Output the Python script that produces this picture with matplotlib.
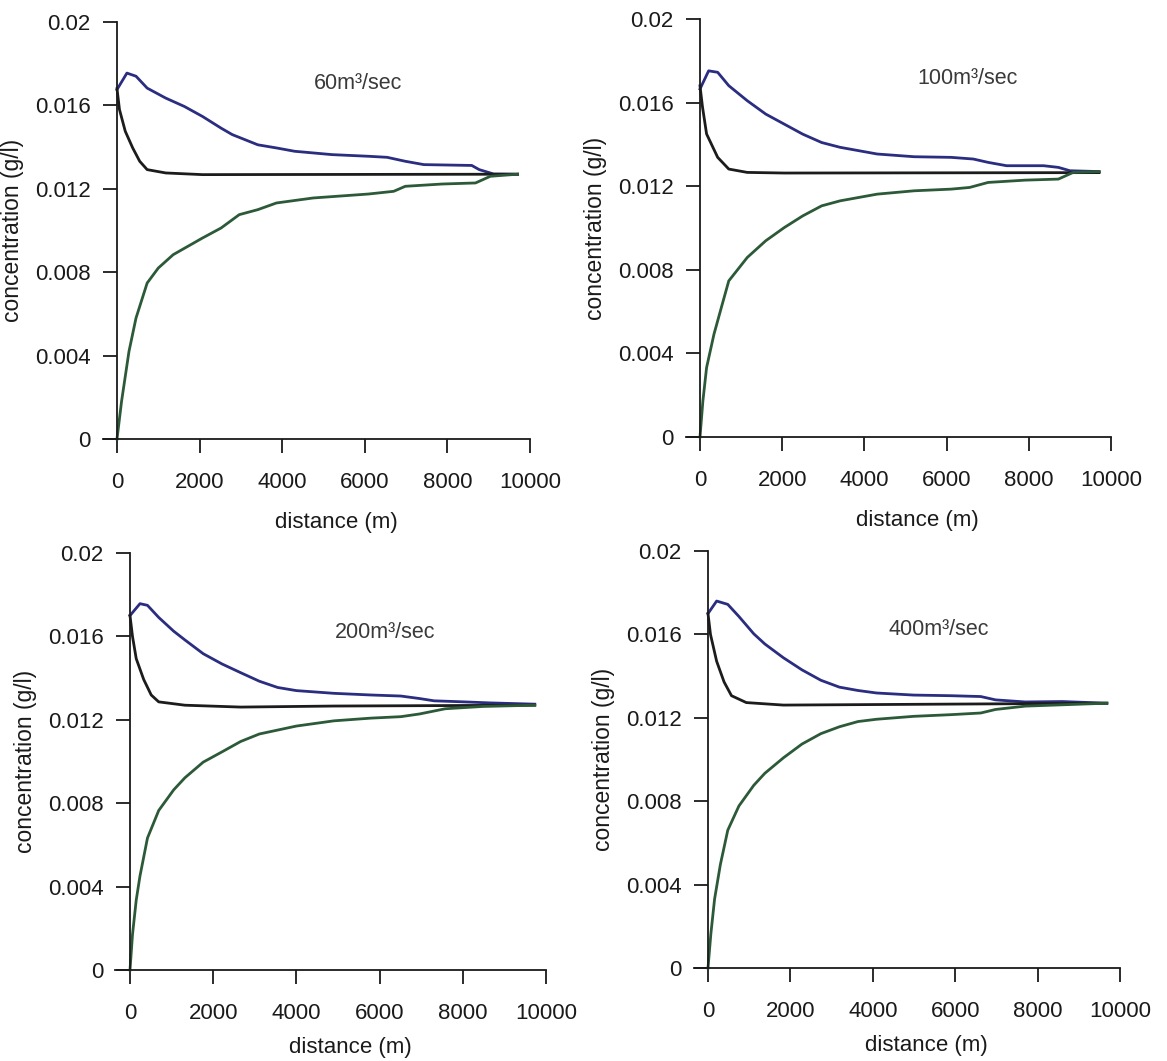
import matplotlib
matplotlib.use("Agg")
import matplotlib.pyplot as plt

plt.rcParams['font.family'] = ['Liberation Sans', 'DejaVu Sans']

# discharge cases
flows = ["60", "100", "200", "400"]

# 60 m3/sec
x_blue_60 = [0, 240, 460, 730, 1180, 1630, 2070, 2520, 2790, 3410, 3860, 4300, 5200, 6090, 6540, 6980, 7430, 8590, 8770, 9120, 9700]
c_blue_60 = [0.01676, 0.01755, 0.0174, 0.01683, 0.01635, 0.01595, 0.01547, 0.01491, 0.0146, 0.01411, 0.01396, 0.0138, 0.01364, 0.01356, 0.01351, 0.01332, 0.01316, 0.01312, 0.01292, 0.01271, 0.0127]
x_black_60 = [0, 60, 200, 380, 550, 730, 1180, 2070, 9700]
c_black_60 = [0.0168, 0.0158, 0.01476, 0.01396, 0.01332, 0.01292, 0.01276, 0.01268, 0.0127]
x_green_60 = [0, 110, 290, 460, 730, 1000, 1360, 2070, 2520, 2960, 3410, 3860, 4750, 6090, 6700, 6980, 7880, 8680, 9040, 9700]
c_green_60 = [0, 0.0018, 0.0042, 0.0058, 0.00748, 0.0082, 0.00884, 0.00964, 0.01012, 0.01076, 0.011, 0.01132, 0.01156, 0.01175, 0.01188, 0.01212, 0.01223, 0.01228, 0.0126, 0.0127]

# 100 m3/sec
x_blue_100 = [0, 210, 430, 700, 1150, 1600, 2050, 2500, 2960, 3410, 4310, 5210, 6110, 6650, 7010, 7460, 8360, 8720, 9000, 9710]
c_blue_100 = [0.01665, 0.01752, 0.01745, 0.01681, 0.01609, 0.01545, 0.01497, 0.01449, 0.01409, 0.01386, 0.01354, 0.01341, 0.01338, 0.0133, 0.01314, 0.01298, 0.01298, 0.0129, 0.01274, 0.0127]
x_black_100 = [0, 60, 160, 430, 700, 1150, 2050, 9710]
c_black_100 = [0.0168, 0.0158, 0.0145, 0.01338, 0.01282, 0.01266, 0.01263, 0.01265]
x_green_100 = [0, 70, 160, 340, 520, 700, 1150, 1600, 2050, 2500, 2960, 3410, 4310, 5210, 6110, 6560, 7010, 7910, 8720, 9080, 9710]
c_green_100 = [0, 0.00172, 0.00332, 0.00492, 0.0062, 0.00747, 0.00859, 0.00939, 0.01002, 0.01058, 0.01106, 0.0113, 0.01162, 0.01178, 0.01186, 0.01194, 0.01218, 0.01229, 0.01234, 0.01266, 0.0127]

# 200 m3/sec
x_blue_200 = [0, 240, 420, 690, 1050, 1320, 1760, 2210, 2660, 3110, 3550, 4000, 4900, 5790, 6510, 6960, 7310, 8030, 8660, 9730]
c_blue_200 = [0.0170, 0.01757, 0.01749, 0.01691, 0.01625, 0.01583, 0.01517, 0.01468, 0.01426, 0.01385, 0.01355, 0.0134, 0.01327, 0.01319, 0.01314, 0.01302, 0.01291, 0.01286, 0.01281, 0.01275]
x_black_200 = [0, 60, 150, 330, 510, 690, 1320, 2660, 4900, 9730]
c_black_200 = [0.0170, 0.0160, 0.01493, 0.01393, 0.01319, 0.01286, 0.0127, 0.01261, 0.01266, 0.0127]
x_green_200 = [0, 60, 150, 240, 420, 690, 1050, 1320, 1760, 2210, 2660, 3110, 4000, 4900, 5790, 6510, 6960, 7580, 8480, 9730]
c_green_200 = [0, 0.0017, 0.00336, 0.00451, 0.00633, 0.00765, 0.00864, 0.00922, 0.00997, 0.01046, 0.01096, 0.01132, 0.0117, 0.01195, 0.01208, 0.01215, 0.01228, 0.01253, 0.01264, 0.0127]

# 400 m3/sec
x_blue_400 = [0, 210, 480, 750, 1110, 1380, 1830, 2280, 2740, 3190, 3640, 4090, 4990, 5890, 6620, 6980, 7700, 8600, 9680]
c_blue_400 = [0.0170, 0.0176, 0.01744, 0.01686, 0.01603, 0.01554, 0.01488, 0.0143, 0.0138, 0.01347, 0.01331, 0.01319, 0.01309, 0.01306, 0.01302, 0.01286, 0.01276, 0.01278, 0.0127]
x_black_400 = [0, 60, 210, 390, 570, 930, 1830, 9680]
c_black_400 = [0.0170, 0.0160, 0.01471, 0.01372, 0.01306, 0.01273, 0.01261, 0.0127]
x_green_400 = [0, 70, 160, 300, 480, 750, 1110, 1380, 1830, 2280, 2740, 3190, 3640, 4090, 4990, 5890, 6620, 6980, 7700, 9680]
c_green_400 = [0, 0.00165, 0.00331, 0.00496, 0.00661, 0.00777, 0.00876, 0.00934, 0.01008, 0.01074, 0.01124, 0.01157, 0.01182, 0.01193, 0.01207, 0.01215, 0.01223, 0.0124, 0.01256, 0.0127]

y_ticks = [0, 0.004, 0.008, 0.012, 0.016, 0.02]
y_ticklabels = ["0", "0.004", "0.008", "0.012", "0.016", "0.02"]
x_ticks = [0, 2000, 4000, 6000, 8000, 10000]

series = {
    "60": [(x_blue_60, c_blue_60), (x_black_60, c_black_60), (x_green_60, c_green_60)],
    "100": [(x_blue_100, c_blue_100), (x_black_100, c_black_100), (x_green_100, c_green_100)],
    "200": [(x_blue_200, c_blue_200), (x_black_200, c_black_200), (x_green_200, c_green_200)],
    "400": [(x_blue_400, c_blue_400), (x_black_400, c_black_400), (x_green_400, c_green_400)],
}
colors = ["#2a2d80", "#1c1c1c", "#2c5a38"]

W, H = 1167, 1061
XMIN = -350
# pixel positions: y-axis (x=0), x=10000, y=0.02, y=0
boxes = {
    "60": (117, 530, 22, 439),
    "100": (700, 1111, 19, 437),
    "200": (130, 546, 553, 970),
    "400": (708, 1120, 551, 968),
}
label_pos = {"60": (5840, 0.01707), "100": (6500, 0.01713), "200": (6140, 0.01621), "400": (5600, 0.01622)}
xlabel_drop = {"60": 73, "100": 73, "200": 67, "400": 67}

fig = plt.figure(figsize=(W / 100, H / 100), dpi=100)

for q in flows:
    x0, x1, t, b = boxes[q]
    px = (x1 - x0) / 10000.0
    l = x0 + XMIN * px
    ax = fig.add_axes([l / W, 1 - b / H, (x1 - l) / W, (b - t) / H])
    for (xs, ys), col in zip(series[q], colors):
        ax.plot(xs, ys, color=col, lw=2.0, clip_on=False)

    ax.set_xlim(XMIN, 10000)
    ax.set_ylim(0, 0.02)
    ax.spines['left'].set_position(('data', 0))
    ax.spines['top'].set_visible(False)
    ax.spines['right'].set_visible(False)
    for s in ['left', 'bottom']:
        ax.spines[s].set_linewidth(1.3)
        ax.spines[s].set_color('#1a1a1a')

    ax.set_yticks(y_ticks)
    ax.set_yticklabels(y_ticklabels)
    ax.set_xticks(x_ticks)
    ax.set_xticklabels([str(v) for v in x_ticks])
    ax.tick_params(axis='both', direction='out', length=10, width=1.3,
                   labelsize=16, colors='#1a1a1a')
    ax.tick_params(axis='y', pad=9)
    ax.tick_params(axis='x', pad=14)

    ax.set_ylabel("concentration (g/l)", fontsize=16.5, color='#1a1a1a')
    ax.yaxis.set_label_coords((x0 - 93 - l) / (x1 - l), 0.5)
    ax.set_xlabel("distance (m)", fontsize=16, color='#1a1a1a')
    ax.xaxis.set_label_coords((x0 + 5300 * px - l) / (x1 - l), -float(xlabel_drop[q]) / (b - t))

    lx, ly = label_pos[q]
    ax.text(lx, ly, q + "m³/sec", fontsize=15.5, color='#3a3a3a',
            ha='center', va='center')

fig.savefig("out.png", dpi=100)
